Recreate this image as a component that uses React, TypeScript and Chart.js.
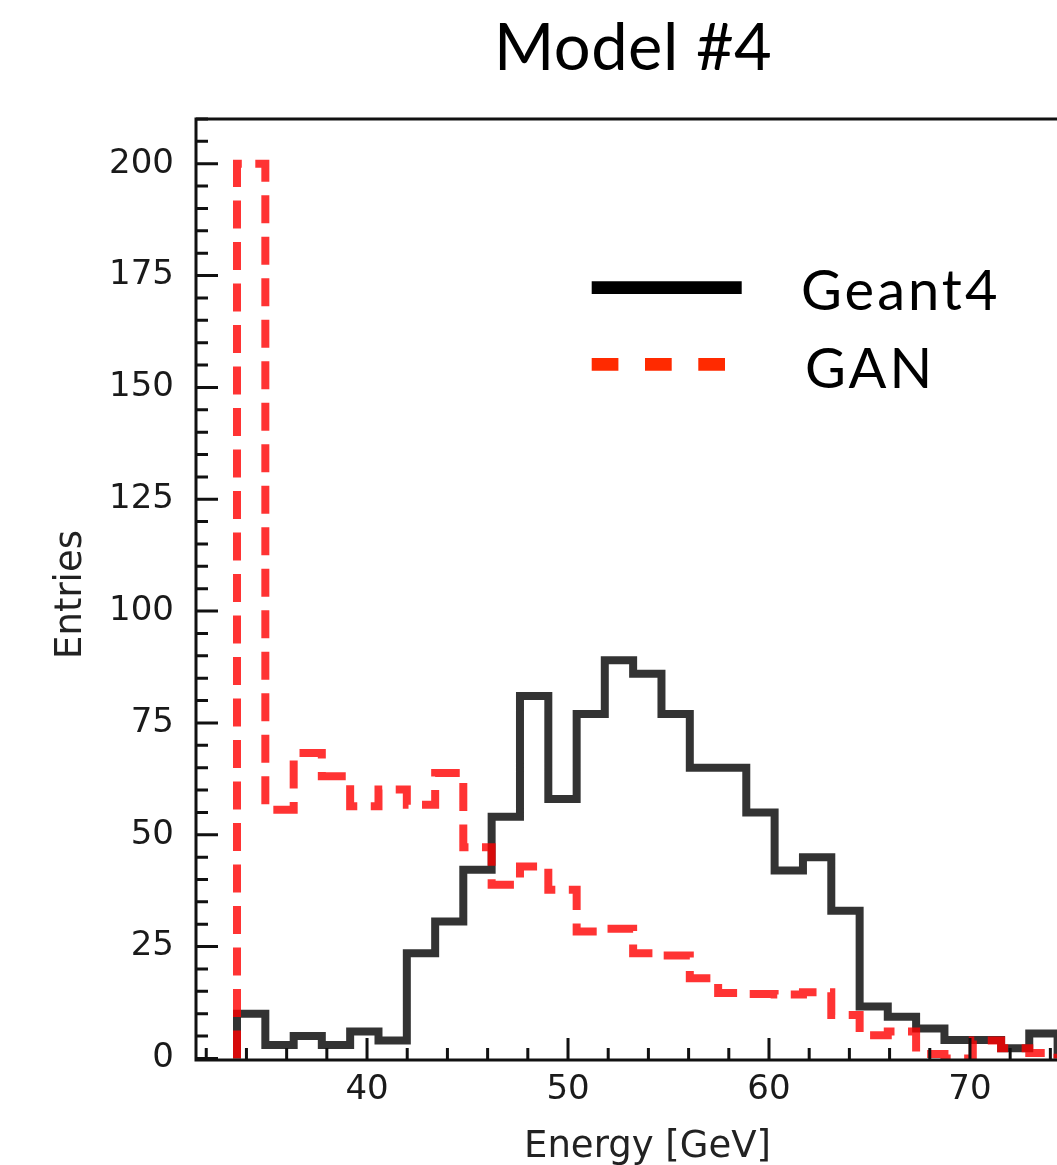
import React, { useEffect, useRef } from "react";
import { Chart, registerables } from "chart.js";

Chart.register(...registerables);

const TITLE = "Model #4";
const X_LABEL = "Energy [GeV]";
const Y_LABEL = "Entries";
const SERIES_NAMES = ["Geant4", "GAN"];

// histogram bin edges (GeV)
const BIN_EDGES = [
  33.53, 34.94, 36.35, 37.75, 39.16, 40.57, 41.98, 43.39, 44.79, 46.2,
  47.61, 49.02, 50.43, 51.83, 53.24, 54.65, 56.06, 57.47, 58.87, 60.28,
  61.69, 63.1, 64.51, 65.91, 67.32, 68.73, 70.14, 71.55, 72.95, 74.36,
];

// entries per bin
const GEANT4 = [
  10, 3, 5, 3, 6, 4, 23.5, 30.6, 42.2, 54, 81, 58, 77, 89, 86, 77, 65, 65, 55,
  42, 45, 33, 11.6, 9.3, 6.7, 4.1, 4.1, 2.3, 5.6,
];
const GAN = [
  200, 55.6, 68.3, 63.1, 56.4, 60.1, 56.7, 63.8, 47.2, 38.8, 42.9, 37.7, 28.4,
  29, 23.5, 23, 17.9, 14.6, 14.4, 14.3, 14.8, 9.7, 5.2, 6, 1, 0, 4, 2.3, 1.2,
];

const Y_TICKS = [0, 25, 50, 75, 100, 125, 150, 175, 200];
const X_TICKS = [40, 50, 60, 70];

const X_MIN = 31.49;
const X_MAX = 76.42;
const Y_MIN = -0.35;
const Y_MAX = 210;

function stepPoints(edges: number[], values: number[]) {
  const pts: { x: number; y: number }[] = [{ x: edges[0], y: 0 }];
  values.forEach((v, i) => {
    pts.push({ x: edges[i], y: v });
    pts.push({ x: edges[i + 1], y: v });
  });
  pts.push({ x: edges[values.length], y: 0 });
  return pts;
}

const framePlugin = {
  id: "frameAndDecor",
  afterDatasetsDraw(chart: any) {
    const ctx = chart.ctx as CanvasRenderingContext2D;
    const { left, right, top, bottom } = chart.chartArea;
    const xs = chart.scales.x;
    const ys = chart.scales.y;
    ctx.save();
    ctx.strokeStyle = "#111";
    ctx.lineWidth = 3;
    ctx.lineCap = "butt";
    ctx.beginPath();
    for (let v = 0; v <= Y_MAX; v += 5) {
      const y = ys.getPixelForValue(v);
      const len = v % 25 === 0 ? 22 : 12;
      ctx.moveTo(left, y);
      ctx.lineTo(left + len, y);
    }
    for (let v = 32; v <= X_MAX; v += 2) {
      const x = xs.getPixelForValue(v);
      const len = v % 10 === 0 ? 22 : 12;
      ctx.moveTo(x, bottom);
      ctx.lineTo(x, bottom - len);
    }
    ctx.stroke();
    ctx.strokeRect(left, top, right - left, bottom - top);
    ctx.restore();
  },
  afterDraw(chart: any) {
    const ctx = chart.ctx as CanvasRenderingContext2D;
    const { left, right, top, bottom } = chart.chartArea;
    ctx.save();
    // axis titles
    ctx.fillStyle = "#222";
    ctx.font = '37px "DejaVu Sans"';
    ctx.textAlign = "center";
    ctx.textBaseline = "alphabetic";
    ctx.fillText(X_LABEL, (left + right) / 2, 1157);
    ctx.save();
    ctx.translate(81, (top + bottom) / 2 + 5);
    ctx.rotate(-Math.PI / 2);
    ctx.fillText(Y_LABEL, 0, 0);
    ctx.restore();
    // title
    ctx.fillStyle = "#000";
    ctx.font = '65px "Lato"';
    ctx.textAlign = "left";
    (ctx as any).letterSpacing = "0.5px";
    ctx.fillText(TITLE, 494, 70);
    // legend
    (ctx as any).letterSpacing = "0px";
    ctx.lineCap = "butt";
    ctx.strokeStyle = "#000";
    ctx.lineWidth = 12.7;
    ctx.beginPath();
    ctx.moveTo(591.7, 287.7);
    ctx.lineTo(741.7, 287.7);
    ctx.stroke();
    ctx.strokeStyle = "#ff2a00";
    ctx.setLineDash([26.7, 26.6]);
    ctx.beginPath();
    ctx.moveTo(591.7, 364.3);
    ctx.lineTo(725, 364.3);
    ctx.stroke();
    ctx.setLineDash([]);
    ctx.fillStyle = "#000";
    ctx.font = '56px "Lato"';
    ctx.textAlign = "left";
    (ctx as any).letterSpacing = "3px";
    ctx.fillText(SERIES_NAMES[0], 801, 310);
    ctx.fillText(SERIES_NAMES[1], 805, 388);
    (ctx as any).letterSpacing = "0px";
    ctx.restore();
  },
};

export default function App() {
  const ref = useRef<HTMLCanvasElement | null>(null);
  useEffect(() => {
    if (!ref.current) return;
    const chart = new Chart(ref.current, {
      type: "line",
      data: {
        datasets: [
          {
            label: SERIES_NAMES[1],
            data: stepPoints(BIN_EDGES, GAN),
            borderColor: "rgba(255,0,0,0.8)",
            borderWidth: 8,
            borderDash: [28, 13.5],
            pointRadius: 0,
            tension: 0,
            fill: false,
            borderJoinStyle: "miter",
            borderCapStyle: "butt",
            order: 0,
          },
          {
            label: SERIES_NAMES[0],
            data: stepPoints(BIN_EDGES, GEANT4),
            borderColor: "rgba(0,0,0,0.8)",
            borderWidth: 8,
            pointRadius: 0,
            tension: 0,
            fill: false,
            borderJoinStyle: "miter",
            borderCapStyle: "butt",
            order: 1,
          },
        ],
      },
      options: {
        responsive: false,
        animation: false,
        devicePixelRatio: 1,
        layout: { padding: { left: 0, right: 11, top: 119, bottom: 0 } },
        plugins: {
          legend: { display: false },
          title: { display: false },
          tooltip: { enabled: false },
        },
        scales: {
          x: {
            type: "linear",
            min: X_MIN,
            max: X_MAX,
            grid: { display: false, drawTicks: false },
            border: { display: false },
            afterBuildTicks: (s: any) => {
              s.ticks = X_TICKS.map((v) => ({ value: v }));
            },
            afterFit: (s: any) => {
              s.height = 105;
            },
            ticks: {
              font: { family: "DejaVu Sans", size: 34 },
              color: "#1a1a1a",
              padding: 10,
              maxRotation: 0,
              autoSkip: false,
            },
          },
          y: {
            type: "linear",
            min: Y_MIN,
            max: Y_MAX,
            grid: { display: false, drawTicks: false },
            border: { display: false },
            afterBuildTicks: (s: any) => {
              s.ticks = Y_TICKS.map((v) => ({ value: v }));
            },
            afterFit: (s: any) => {
              s.width = 196;
            },
            ticks: {
              font: { family: "DejaVu Sans", size: 34 },
              color: "#1a1a1a",
              padding: 22,
              autoSkip: false,
            },
          },
        },
      },
      plugins: [framePlugin],
    });
    return () => chart.destroy();
  }, []);
  return (
    <div
      style={{
        position: "fixed",
        left: 0,
        top: 0,
        width: 1057,
        height: 1165,
        overflow: "hidden",
        background: "#fff",
      }}
    >
      <canvas ref={ref} width={1110} height={1165} style={{ display: "block" }} />
    </div>
  );
}
